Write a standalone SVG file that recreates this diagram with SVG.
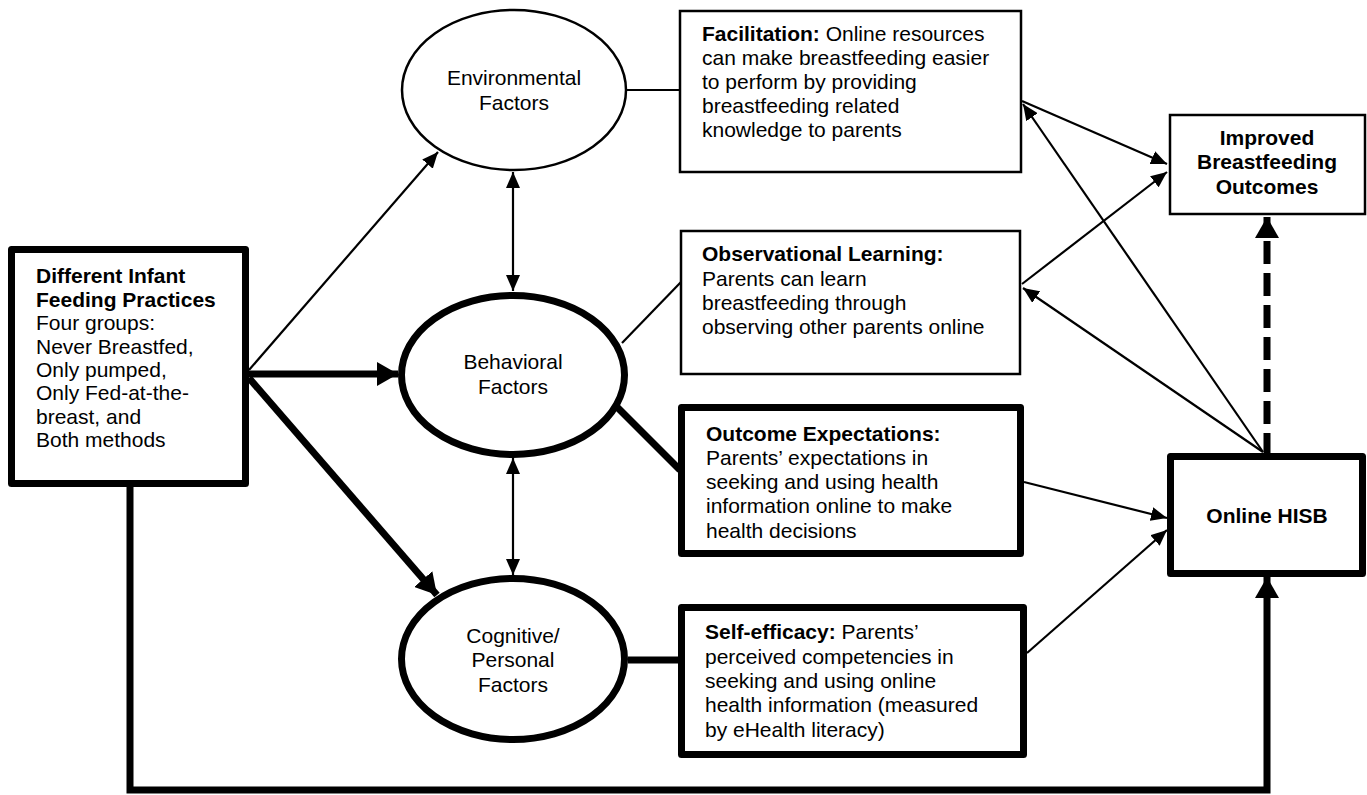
<svg xmlns="http://www.w3.org/2000/svg" width="1367" height="795" viewBox="0 0 1367 795">
<style>
text{font-family:"Liberation Sans",Arial,sans-serif;font-size:21px;fill:#000}
.b{font-weight:bold}
.c{text-anchor:middle}
.thin{fill:#fff;stroke:#000;stroke-width:2.5}
.thick{fill:#fff;stroke:#000;stroke-width:7;stroke-linejoin:round}
.l1{fill:none;stroke:#000;stroke-width:2.2}
.l7{fill:none;stroke:#000;stroke-width:7}
</style>
<defs>
<marker id="a1" viewBox="0 0 16 14" refX="16" refY="7" markerWidth="16" markerHeight="14" markerUnits="userSpaceOnUse" orient="auto-start-reverse"><path d="M0,0L16,7L0,14z" fill="#000"/></marker>
<marker id="a7" viewBox="0 0 21 24" refX="21" refY="12" markerWidth="21" markerHeight="24" markerUnits="userSpaceOnUse" orient="auto"><path d="M0,0L21,12L0,24z" fill="#000"/></marker>
</defs>
<g id="connectors">
<line class="l1" x1="249" y1="370" x2="438" y2="152" marker-end="url(#a1)"/>
<line class="l7" x1="249" y1="374" x2="398" y2="374" marker-end="url(#a7)"/>
<line class="l7" x1="249" y1="378" x2="437" y2="595" marker-end="url(#a7)"/>
<line class="l1" x1="513" y1="172" x2="513" y2="291" marker-start="url(#a1)" marker-end="url(#a1)"/>
<line class="l1" x1="513" y1="458" x2="513" y2="575" marker-start="url(#a1)" marker-end="url(#a1)"/>
<line class="l1" x1="627" y1="90" x2="679" y2="90"/>
<line class="l1" x1="622" y1="343" x2="681" y2="282"/>
<line class="l7" x1="617" y1="407" x2="680" y2="470"/>
<line class="l7" x1="628" y1="660" x2="678" y2="660"/>
<line class="l1" x1="1022" y1="101" x2="1167" y2="164" marker-end="url(#a1)"/>
<line class="l1" x1="1022" y1="284" x2="1167" y2="172" marker-end="url(#a1)"/>
<line class="l1" x1="1263" y1="452" x2="1023" y2="104" marker-end="url(#a1)"/>
<line class="l1" x1="1263" y1="452" x2="1023" y2="288" marker-end="url(#a1)"/>
<line class="l1" x1="1024" y1="482" x2="1167" y2="518" marker-end="url(#a1)"/>
<line class="l1" x1="1027" y1="653" x2="1167" y2="530" marker-end="url(#a1)"/>
<line x1="1267" y1="456" x2="1267" y2="217" stroke="#000" stroke-width="7" stroke-dasharray="23 9" marker-end="url(#a7)"/>
<polyline class="l7" points="130,487 130,790 1267,790 1267,577" marker-end="url(#a7)"/>
</g>
<g id="left">
<rect class="thick" x="11.5" y="249.5" width="234" height="234"/>
<text x="36" y="283" class="b">Different Infant</text>
<text x="36" y="306.5" class="b">Feeding Practices</text>
<text x="36" y="330">Four groups:</text>
<text x="36" y="353.5">Never Breastfed,</text>
<text x="36" y="377">Only pumped,</text>
<text x="36" y="400">Only Fed-at-the-</text>
<text x="36" y="423.5">breast, and</text>
<text x="36" y="447">Both methods</text>
</g>
<g id="environmental">
<ellipse class="thin" cx="514" cy="90" rx="112" ry="80"/>
<text x="514" y="85" class="c">Environmental</text>
<text x="514" y="110" class="c">Factors</text>
</g>
<g id="behavioral">
<ellipse class="thick" cx="513" cy="375" rx="111.5" ry="79.5"/>
<text x="513" y="369" class="c">Behavioral</text>
<text x="513" y="394" class="c">Factors</text>
</g>
<g id="cognitive">
<ellipse class="thick" cx="513" cy="659" rx="111.5" ry="80.5"/>
<text x="513" y="643" class="c">Cognitive/</text>
<text x="513" y="667" class="c">Personal</text>
<text x="513" y="692" class="c">Factors</text>
</g>
<g id="facilitation">
<rect class="thin" x="680" y="11" width="341" height="161"/>
<text x="702" y="41"><tspan class="b">Facilitation:</tspan> Online resources</text>
<text x="702" y="65">can make breastfeeding easier</text>
<text x="702" y="89">to perform by providing</text>
<text x="702" y="113">breastfeeding related</text>
<text x="702" y="137">knowledge to parents</text>
</g>
<g id="observational">
<rect class="thin" x="681" y="231" width="339" height="143"/>
<text x="702" y="261" class="b">Observational Learning:</text>
<text x="702" y="286">Parents can learn</text>
<text x="702" y="310">breastfeeding through</text>
<text x="702" y="334">observing other parents online</text>
</g>
<g id="outcome">
<rect class="thick" x="681.5" y="407.5" width="339" height="146"/>
<text x="706" y="441" class="b">Outcome Expectations:</text>
<text x="706" y="465">Parents’ expectations in</text>
<text x="706" y="489">seeking and using health</text>
<text x="706" y="513">information online to make</text>
<text x="706" y="538">health decisions</text>
</g>
<g id="selfefficacy">
<rect class="thick" x="681.5" y="607.5" width="342" height="147"/>
<text x="705" y="639"><tspan class="b">Self-efficacy:</tspan> Parents’</text>
<text x="705" y="664">perceived competencies in</text>
<text x="705" y="688">seeking and using online</text>
<text x="705" y="712">health information (measured</text>
<text x="705" y="737">by eHealth literacy)</text>
</g>
<g id="improved">
<rect class="thin" x="1170" y="115" width="195" height="99"/>
<text x="1267" y="145" class="b c">Improved</text>
<text x="1267" y="169" class="b c">Breastfeeding</text>
<text x="1267" y="194" class="b c">Outcomes</text>
</g>
<g id="hisb">
<rect class="thick" x="1170.5" y="456.5" width="192" height="117"/>
<text x="1267" y="523" class="b c">Online HISB</text>
</g>
</svg>
